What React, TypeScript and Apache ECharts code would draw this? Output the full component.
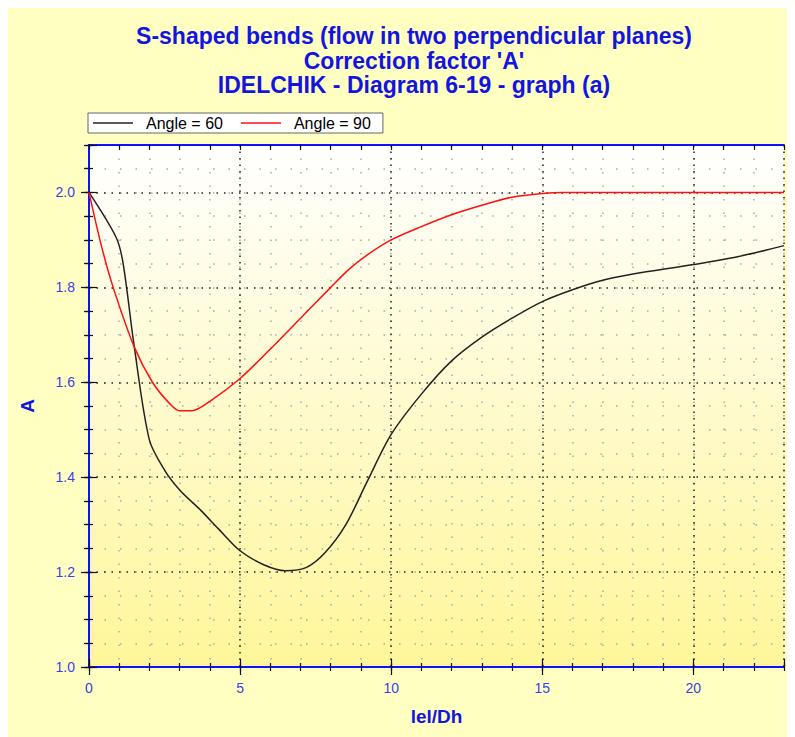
import React, { useEffect, useRef } from "react";
import * as echarts from "echarts";

const titleLines = [
  "S-shaped bends (flow in two perpendicular planes)",
  "Correction factor 'A'",
  "IDELCHIK - Diagram 6-19 - graph (a)",
];
const seriesNames = ["Angle = 60", "Angle = 90"];
const xName = "lel/Dh";
const yName = "A";

// Angle = 60 (black)
const angle60X = [0, 0.9, 1.13, 1.5, 2.0, 2.5, 3.0, 3.7, 4.3, 5.0, 5.8, 6.5, 7.2, 7.8, 8.5, 9.2, 10.0, 11.0, 12.0, 13.0, 14.0, 15.0, 16.0, 17.0, 18.0, 20.0, 21.5, 23.0];
const angle60Y = [2.0, 1.905, 1.85, 1.674, 1.478, 1.415, 1.373, 1.33, 1.29, 1.245, 1.215, 1.203, 1.21, 1.24, 1.3, 1.39, 1.49, 1.575, 1.645, 1.695, 1.735, 1.77, 1.795, 1.815, 1.828, 1.848, 1.865, 1.888];

// Angle = 90 (red)
const angle90X = [0, 0.4, 0.8, 1.5, 2.1, 2.67, 3.0, 3.4, 4.0, 5.0, 6.0, 7.0, 8.0, 8.6, 9.2, 10.0, 11.0, 12.0, 13.0, 14.0, 15.0, 15.7, 18.0, 23.0];
const angle90Y = [2.0, 1.89, 1.8, 1.674, 1.6, 1.555, 1.54, 1.54, 1.56, 1.608, 1.67, 1.735, 1.8, 1.838, 1.868, 1.9, 1.928, 1.953, 1.973, 1.99, 1.998, 2.0, 2.0, 2.0];

const X_MIN = 0, X_MAX = 23, X_MAJOR = 5, X_MINOR = 1;
const Y_MIN = 1.0, Y_MAX = 2.1, Y_MAJOR = 0.2, Y_MINOR = 0.05;

const BLUE = "#1414e0";
const LABEL_BLUE = "#3c3cf0";
const FONT = "Arial, 'Liberation Sans', sans-serif";

export default function App() {
  const ref = useRef<HTMLDivElement>(null);
  useEffect(() => {
    if (!ref.current) return;
    const chart = echarts.init(ref.current, null, { renderer: "svg" });
    const pair = (xs: number[], ys: number[]) => xs.map((x, i) => [x, ys[i]]);

    const baseX = {
      type: "value",
      min: X_MIN,
      max: X_MAX,
      axisLabel: { show: false },
      splitLine: { show: false },
      axisLine: { show: false },
    };
    const baseY = {
      type: "value",
      min: Y_MIN,
      max: Y_MAX,
      axisLabel: { show: false },
      splitLine: { show: false },
      axisLine: { show: false },
    };
    const tick = (inside: boolean, length: number) => ({
      show: true,
      inside,
      length,
      lineStyle: { color: "#111", width: 1.2 },
    });

    chart.setOption({
      animation: false,
      backgroundColor: "#FFFFC2",
      title: {
        text: titleLines.join("\n"),
        left: 403,
        top: 11,
        textAlign: "center",
        textStyle: {
          color: BLUE,
          fontFamily: FONT,
          fontWeight: "bold",
          fontSize: 23,
          lineHeight: 24.5,
        },
      },
      legend: {
        left: 82,
        top: 105,
        orient: "horizontal",
        backgroundColor: "#ffffff",
        borderColor: "#666",
        borderWidth: 1,
        borderRadius: 0,
        padding: [2, 12, 2, 5],
        icon: "rect",
        itemWidth: 40,
        itemHeight: 1.5,
        itemGap: 18,
        textStyle: { color: "#000", fontFamily: FONT, fontSize: 16, padding: [0, 0, 0, 8] },
        data: seriesNames,
      },
      grid: {
        left: 83,
        right: 11,
        top: 137,
        bottom: 70,
        show: true,
        borderWidth: 0,
        backgroundColor: {
          type: "linear",
          x: 0, y: 0, x2: 0, y2: 1,
          colorStops: [
            { offset: 0, color: "#ffffff" },
            { offset: 1, color: "#fff69a" },
          ],
        },
      },
      xAxis: [
        {
          ...baseX,
          position: "bottom",
          interval: X_MINOR,
          axisLine: { show: true, lineStyle: { color: "#1010ff", width: 2 } },
          axisTick: tick(true, 4),
          splitLine: { show: true, lineStyle: { color: "#aaa", width: 1.5, type: [1.5, 12] } },
        },
        { ...baseX, position: "bottom", interval: X_MINOR, axisTick: tick(false, 4) },
        {
          ...baseX,
          position: "bottom",
          interval: X_MAJOR,
          axisTick: tick(true, 8),
          splitLine: { show: true, lineStyle: { color: "#222", width: 1.5, type: [1.5, 5] } },
        },
        {
          ...baseX,
          position: "bottom",
          interval: X_MAJOR,
          axisTick: tick(false, 8),
          axisLabel: {
            show: true,
            showMaxLabel: false,
            color: LABEL_BLUE,
            fontFamily: FONT,
            fontSize: 14,
            margin: 14,
          },
          name: xName,
          nameLocation: "middle",
          nameGap: 40,
          nameTextStyle: { color: BLUE, fontFamily: FONT, fontWeight: "bold", fontSize: 19 },
        },
        {
          ...baseX,
          position: "top",
          interval: X_MINOR,
          axisLine: { show: true, lineStyle: { color: "#1010ff", width: 2 } },
          axisTick: tick(true, 5),
        },
      ],
      yAxis: [
        {
          ...baseY,
          position: "left",
          interval: Y_MINOR,
          axisLine: { show: true, lineStyle: { color: "#1010ff", width: 2 } },
          axisTick: tick(true, 4),
          splitLine: { show: true, lineStyle: { color: "#aaa", width: 1.5, type: [1.5, 14] } },
        },
        { ...baseY, position: "left", interval: Y_MINOR, axisTick: tick(false, 4) },
        {
          ...baseY,
          position: "left",
          interval: Y_MAJOR,
          axisTick: tick(true, 8),
          splitLine: { show: true, lineStyle: { color: "#222", width: 1.5, type: [1.5, 6] } },
        },
        {
          ...baseY,
          position: "left",
          interval: Y_MAJOR,
          axisTick: tick(false, 8),
          axisLabel: {
            show: true,
            showMaxLabel: false,
            color: LABEL_BLUE,
            fontFamily: FONT,
            fontSize: 14,
            margin: 14,
            formatter: (v: number) => v.toFixed(1),
          },
          name: yName,
          nameLocation: "middle",
          nameRotate: 90,
          nameGap: 52,
          nameTextStyle: { color: BLUE, fontFamily: FONT, fontWeight: "bold", fontSize: 19 },
        },
        {
          ...baseY,
          position: "right",
          interval: Y_MINOR,
          axisLine: { show: true, lineStyle: { color: "#1010ff", width: 2 } },
          axisTick: tick(true, 5),
        },
      ],
      series: [
        {
          name: seriesNames[0],
          type: "line",
          xAxisIndex: 0,
          yAxisIndex: 0,
          data: pair(angle60X, angle60Y),
          symbol: "none",
          smooth: 0.3,
          lineStyle: { color: "#222", width: 1.5 },
          itemStyle: { color: "#222" },
        },
        {
          name: seriesNames[1],
          type: "line",
          xAxisIndex: 0,
          yAxisIndex: 0,
          data: pair(angle90X, angle90Y),
          symbol: "none",
          smooth: 0.3,
          lineStyle: { color: "#ff1010", width: 1.5 },
          itemStyle: { color: "#ff1010" },
        },
      ],
    });
    return () => chart.dispose();
  }, []);

  return (
    <div
      ref={ref}
      style={{ width: 789, height: 729, marginLeft: -2 }}
    />
  );
}
